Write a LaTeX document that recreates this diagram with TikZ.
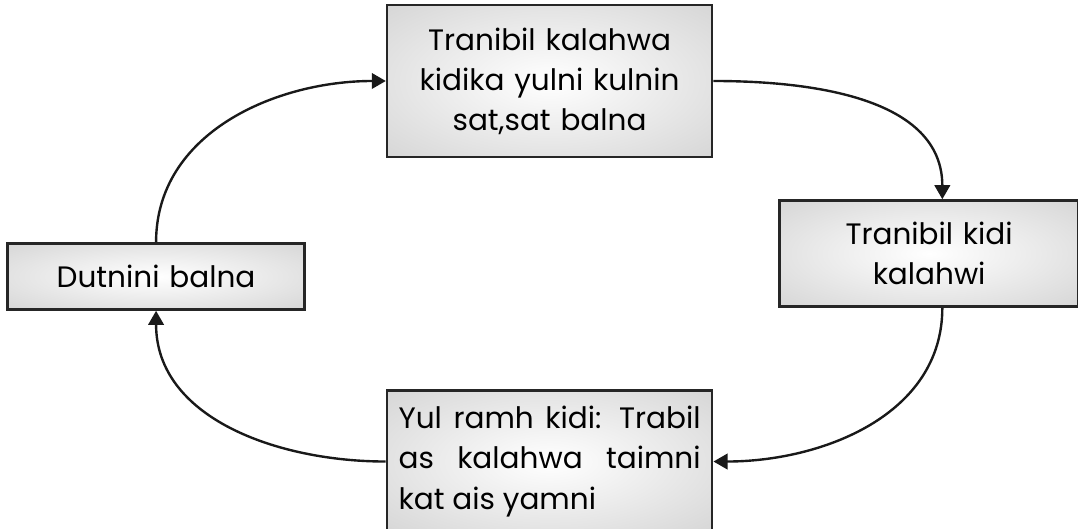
\documentclass[tikz,border=0pt]{standalone}
\usepackage{fontspec}
\setmainfont{Poppins}
\usetikzlibrary{arrows.meta,positioning}

\pgfdeclareradialshading{boxshade}{\pgfpoint{0bp}{0bp}}{color(0bp)=(white); color(50bp)=(gray!45); color(71bp)=(gray!65)}

\begin{document}
\begin{tikzpicture}[>={Triangle[length=10pt,width=11pt]},every node/.append style={align=center},
  box/.style={rectangle, draw=black!85, line width=1.8pt, shading=boxshade, font=\fontsize{21}{28.5}\selectfont, inner xsep=0.29cm},
  link/.style={->, line width=1.7pt, black!90}]
    \useasboundingbox (0,0) rectangle (26.95,13.225);
    \node [box, minimum width=8.125cm, minimum height=3.8cm, text width=7.5cm] (TK) at (13.74,11.2) {Tranibil kalahwa\\ kidika yulni kulnin\\ sat,sat balna};
    \node [box, below right=1.025cm and 1.625cm of TK, minimum width=7.475cm, minimum height=2.65cm, text width=6.8cm] (TD) {Tranibil kidi\\ kalahwi};
    \node [box, below left=2.1cm and 2cm of TK, minimum width=7.425cm, minimum height=1.65cm, text width=6.8cm] (DB) {Dutnini balna};
    \node [box, below=5.775cm of TK, minimum width=8.125cm, minimum height=3.55cm, text width=7.55cm, align=justify] (YR) {Yul ramh kidi: Trabil\linebreak as kalahwa taimni\linebreak kat ais yamni};
    \path[link] (DB.north) edge [out=90, in=180] (TK.west);
    \path[link] (TK.east) edge [out=0, in=90] ([xshift=0.33cm]TD.north);
    \path[link] ([xshift=0.33cm]TD.south) edge [out=-90, in=0] (YR.east);
    \path[link] (YR.west) edge [out=180, in=-90] (DB.south);
\end{tikzpicture}
\end{document}
